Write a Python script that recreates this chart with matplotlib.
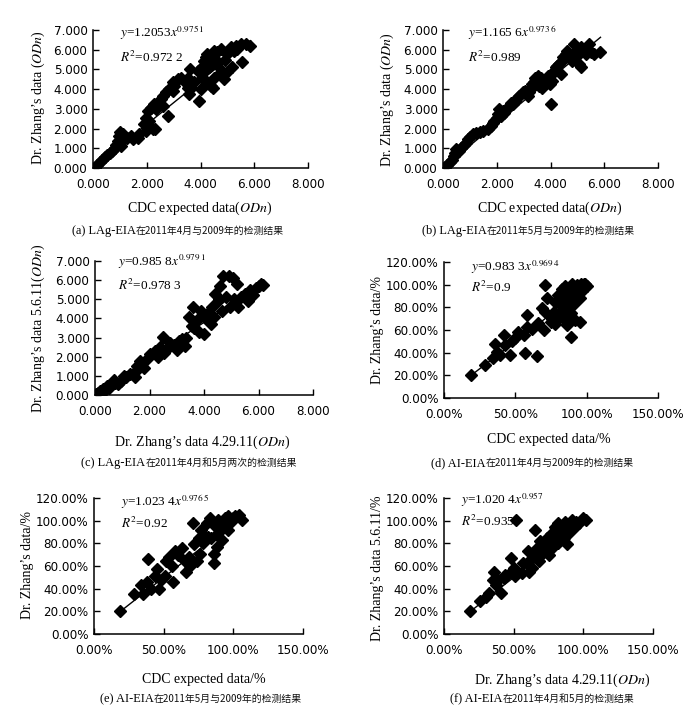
import matplotlib
matplotlib.use('Agg')
import matplotlib.pyplot as plt
from matplotlib.ticker import FuncFormatter
from matplotlib.offsetbox import TextArea, HPacker, AnnotationBbox

plt.rcParams['mathtext.fontset'] = 'stix'

# ---------------- data ----------------
a_x = [0.06,0.16,0.25,0.33,0.43,0.53,0.62,0.70,0.80,0.86,0.93,0.95,1.02,1.11,1.05,1.17,1.27,1.42,1.48,1.67,1.73,
       1.89,1.98,2.04,1.98,2.22,2.16,2.28,2.41,2.53,2.60,2.78,2.72,2.84,2.96,3.02,3.15,3.27,3.40,3.52,3.58,3.64,
       3.77,3.95,4.01,4.07,4.07,4.14,4.20,4.26,4.38,4.51,4.63,4.75,4.32,4.26,4.38,4.51,4.69,4.81,4.88,5.00,5.19,
       5.00,5.12,5.31,5.49,5.56,5.68,5.86,5.25,5.37,4.57,3.89,3.52,2.96,2.60,2.35,3.60,4.45,4.20,4.55,4.90,2.10,2.30]
a_y = [0.00,0.17,0.31,0.43,0.54,0.68,0.77,0.88,0.99,1.19,1.39,1.62,1.84,1.70,1.11,1.45,1.53,1.62,1.45,1.53,1.70,
       2.21,2.55,2.89,1.87,1.96,3.06,3.23,3.32,3.49,3.66,2.64,3.83,4.00,3.91,4.17,4.51,4.59,4.42,4.59,3.74,4.08,
       4.34,3.40,4.00,4.59,5.10,5.44,5.61,5.78,5.70,5.95,5.87,6.04,5.10,4.34,4.17,4.59,4.76,4.93,4.51,4.85,5.10,
       5.78,6.12,6.21,6.29,5.36,6.29,6.21,5.95,6.04,5.27,4.93,4.08,4.34,3.15,3.00,5.00,4.05,5.00,5.55,5.50,2.40,2.00]

b_x = [0.06,0.16,0.25,0.33,0.41,0.46,0.49,0.58,0.68,0.78,0.86,0.93,1.02,1.11,1.23,1.36,1.48,1.67,1.79,1.85,1.91,
       2.01,2.06,2.10,2.16,2.22,2.28,2.41,2.47,2.53,2.59,2.68,2.75,2.84,2.96,3.05,3.15,3.21,3.27,3.33,3.40,3.42,
       3.49,3.52,3.58,3.64,3.70,3.83,3.89,4.01,3.99,4.04,4.07,4.14,4.20,4.26,4.32,4.38,4.41,4.48,4.57,4.63,4.69,
       4.75,4.81,4.88,4.90,4.98,5.06,5.12,5.15,5.25,5.31,5.37,5.43,5.49,5.62,5.86]
b_y = [0.03,0.17,0.31,0.43,0.60,0.77,0.94,0.85,1.02,1.16,1.28,1.45,1.56,1.70,1.79,1.84,1.87,1.96,2.13,2.30,2.38,
       2.55,2.72,2.98,2.64,2.89,2.81,3.06,3.15,3.32,3.23,3.40,3.54,3.66,3.83,3.91,3.66,3.83,4.08,4.25,4.34,4.59,
       4.42,4.68,4.17,4.59,4.08,4.51,4.68,3.23,4.25,4.42,4.76,4.93,5.10,5.19,5.27,4.76,5.44,5.61,5.78,5.95,5.70,
       5.53,5.44,6.29,5.87,5.70,5.27,5.10,6.12,6.04,5.78,5.95,6.29,5.87,5.78,5.87]

c_x = [0.05,0.12,0.20,0.25,0.30,0.38,0.45,0.50,0.60,0.70,0.75,0.85,0.95,1.05,1.15,1.30,1.45,1.50,1.55,1.65,1.70,
       1.80,1.90,2.00,2.20,2.30,2.40,2.50,2.55,2.65,2.75,2.90,3.00,3.10,3.20,3.30,3.35,3.45,3.60,3.65,3.75,3.80,
       3.90,4.00,4.05,4.15,4.25,4.30,4.40,4.50,4.60,4.65,4.70,4.80,4.90,4.95,5.05,5.10,5.20,5.25,5.35,5.50,5.60,
       5.70,5.80,5.90,6.00,6.10,6.15,4.55,4.35,3.55]
c_y = [0.05,0.10,0.20,0.10,0.30,0.25,0.45,0.35,0.60,0.80,0.65,0.55,0.75,1.00,0.95,1.10,0.95,1.25,1.50,1.75,1.55,
       1.40,1.90,2.15,2.30,2.00,2.50,3.05,2.20,2.40,2.70,2.60,2.35,2.80,2.90,2.55,3.00,4.10,4.60,3.50,3.90,3.30,
       4.40,3.20,4.00,4.30,3.70,4.60,5.30,4.90,5.70,4.40,6.20,5.10,6.20,4.60,6.10,5.00,5.80,4.60,5.10,5.30,4.90,
       5.50,5.20,5.60,5.70,5.80,5.75,5.00,4.10,3.60]

d_x = [19,29,34,37,36,39,43,42,46,48,50,52,56,58,58,57,65,62,66,70,71,71,72,75,77,78,80,82,83,84,85,86,88,89,89,
       90,91,92,93,95,95,96,97,99,100,79,76,69,82,85,87,89,90,92,88,86,84,91,93,96,98,83,89,80,78,74]
d_y = [20,29,35,41,48,38,47,56,38,50,53,58,56,63,73,40,37,61,66,60,76,100,88,67,76,85,91,82,96,70,99,64,88,54,94,
       101,83,69,96,67,88,101,94,101,99,73,70,79,88,92,95,97,90,92,85,80,83,98,100,99,101,78,75,70,65,72]

e_x = [19,29,35,34,38,39,41,44,45,47,48,51,52,54,56,57,58,60,63,65,66,68,69,71,72,74,75,76,77,78,81,82,83,86,86,
       87,89,90,92,93,94,96,98,100,104,106,88,84,80,89,96,101]
e_y = [20,35,35,43,46,66,40,51,57,40,48,51,64,68,60,46,73,70,76,64,55,68,60,98,79,64,85,71,92,80,98,86,102,71,63,
       95,89,99,83,94,102,92,99,102,105,101,77,85,86,101,104,104]

f_x = [19,26,30,32,36,37,35,41,39,43,48,48,50,51,52,56,57,60,61,63,64,65,67,68,69,70,73,74,75,77,78,80,81,82,84,
       86,87,89,90,92,94,95,97,100,102,88,82,77,61,44]
f_y = [20,29,33,36,55,43,48,36,48,49,55,67,58,51,101,54,63,73,64,58,68,92,76,64,82,71,76,85,70,88,79,94,86,98,92,
       85,99,95,89,101,94,99,98,102,101,79,80,75,55,52]

trend_x = {'a': [0.10, 5.86], 'b': [0.10, 5.86], 'c': [0.10, 6.15], 'd': [19, 100], 'e': [19, 106], 'f': [19, 102]}
trend_y = {'a': [0.12, 6.46], 'b': [0.12, 6.63], 'c': [0.10, 5.83], 'd': [20, 98], 'e': [20, 104], 'f': [20, 100]}

eq_text = {
    'a': (r'$y$=1.2053$x^{0.975\,1}$', r'$R^2$=0.972 2'),
    'b': (r'$y$=1.165 6$x^{0.973\,6}$', r'$R^2$=0.989'),
    'c': (r'$y$=0.985 8$x^{0.979\,1}$', r'$R^2$=0.978 3'),
    'd': (r'$y$=0.983 3$x^{0.969\,4}$', r'$R^2$=0.9'),
    'e': (r'$y$=1.023 4$x^{0.976\,5}$', r'$R^2$=0.92'),
    'f': (r'$y$=1.020 4$x^{0.957}$', r'$R^2$=0.935'),
}
x_labels = {
    'a': 'CDC expected data($ODn$)', 'b': 'CDC expected data($ODn$)',
    'c': 'Dr. Zhang\u2019s data 4.29.11($ODn$)', 'd': 'CDC expected data/%',
    'e': 'CDC expected data/%', 'f': 'Dr. Zhang\u2019s data 4.29.11($ODn$)',
}
y_labels = {
    'a': 'Dr. Zhang\u2019s data ($ODn$)', 'b': 'Dr. Zhang\u2019s data ($ODn$)',
    'c': 'Dr. Zhang\u2019s data 5.6.11($ODn$)', 'd': 'Dr. Zhang\u2019s data/%',
    'e': 'Dr. Zhang\u2019s data/%', 'f': 'Dr. Zhang\u2019s data 5.6.11/%',
}
caption_prefix = {'a': '(a) LAg-EIA', 'b': '(b) LAg-EIA', 'c': '(c) LAg-EIA',
                  'd': '(d) AI-EIA', 'e': '(e) AI-EIA', 'f': '(f) AI-EIA'}
caption_rest = {
    'a': '在2011年4月与2009年的检测结果',
    'b': '在2011年5月与2009年的检测结果',
    'c': '在2011年4月和5月两次的检测结果',
    'd': '在2011年4月与2009年的检测结果',
    'e': '在2011年5月与2009年的检测结果',
    'f': '在2011年4月和5月的检测结果',
}
od_ticks = [0, 2, 4, 6, 8]
od_yticks = [0, 1, 2, 3, 4, 5, 6, 7]
pct_ticks = [0, 50, 100, 150]
pct_yticks = [0, 20, 40, 60, 80, 100, 120]

# ---------------- layout (pixels) ----------------
W, H = 700, 723
fig = plt.figure(figsize=(W / 100, H / 100), dpi=100)
fig.patch.set_facecolor('white')

serif = ['Liberation Serif', 'Noto Sans CJK SC']
cjk = ['Noto Sans CJK SC', 'DejaVu Sans']

panels = {
    # key: (x0, x1, ytop, ybottom, eq pos (fx, fy1, fy2), xlabel pos, ylabel pos, caption pos)
    'a': (93, 308, 30, 168, (0.126, 0.978, 0.80), (200, 208), (38, 98), (178, 231)),
    'b': (443, 658, 30, 168, (0.116, 0.978, 0.80), (550, 208), (387, 100), (528, 231)),
    'c': (95, 313, 261, 395, (0.105, 0.995, 0.82), (202, 442), (38, 328), (189, 463)),
    'd': (444, 658, 262, 398, (0.126, 0.963, 0.81), (549, 440), (377, 330), (532, 463)),
    'e': (94, 303, 498, 634, (0.129, 0.97, 0.816), (204, 679), (27, 565), (201, 699)),
    'f': (444, 653, 498, 634, (0.08, 0.985, 0.83), (562, 680), (377, 568), (542, 699)),
}
data = {'a': (a_x, a_y), 'b': (b_x, b_y), 'c': (c_x, c_y),
        'd': (d_x, d_y), 'e': (e_x, e_y), 'f': (f_x, f_y)}

for key, (x0, x1, yt, yb, eqp, xlp, ylp, cp) in panels.items():
    ax = fig.add_axes([x0 / W, 1 - yb / H, (x1 - x0) / W, (yb - yt) / H])
    xs, ys = data[key]
    ax.plot(trend_x[key], trend_y[key], color='black', lw=1.0, zorder=2)
    ax.plot(xs, ys, linestyle='none', marker='D', ms=6.6, color='black', zorder=3)
    pct = key in ('d', 'e', 'f')
    if pct:
        ax.set_xlim(0, 150); ax.set_ylim(0, 120)
        ax.set_xticks(pct_ticks); ax.set_yticks(pct_yticks)
        fmt = FuncFormatter(lambda v, p: f'{v:.2f}%')
    else:
        ax.set_xlim(0, 8); ax.set_ylim(0, 7)
        ax.set_xticks(od_ticks); ax.set_yticks(od_yticks)
        fmt = FuncFormatter(lambda v, p: f'{v:.3f}')
    ax.xaxis.set_major_formatter(fmt)
    ax.yaxis.set_major_formatter(fmt)
    for s in ('top', 'right'):
        ax.spines[s].set_visible(False)
    for s in ('left', 'bottom'):
        ax.spines[s].set_linewidth(1.1)
    ax.tick_params(direction='in', length=4, width=1.0, labelsize=8.6, pad=4)
    ax.tick_params(axis='x', pad=7)
    for lab in ax.get_xticklabels() + ax.get_yticklabels():
        lab.set_family('DejaVu Sans')
    ax.patch.set_alpha(0)
    for sp in ax.spines.values():
        sp.set_clip_on(False)
    eq1, eq2 = eq_text[key]
    ax.text(eqp[0], eqp[1], eq1, transform=ax.transAxes, family=serif, fontsize=9.5,
            ha='left', va='center')
    ax.text(eqp[0], eqp[2], eq2, transform=ax.transAxes, family=serif, fontsize=9.5,
            ha='left', va='center')
    fig.text(xlp[0] / W, 1 - xlp[1] / H, x_labels[key], family=serif, fontsize=10,
             ha='center', va='center')
    fig.text(ylp[0] / W, 1 - ylp[1] / H, y_labels[key], family=serif, fontsize=10,
             ha='center', va='center', rotation=90)
    t1 = TextArea(caption_prefix[key], textprops=dict(family=serif, fontsize=8.9, color='black'))
    t2 = TextArea(caption_rest[key], textprops=dict(family=cjk, fontsize=7.1, color='#111111'))
    box = HPacker(children=[t1, t2], align='baseline', pad=0, sep=0)
    ab = AnnotationBbox(box, (cp[0] / W, 1 - cp[1] / H), xycoords='figure fraction',
                        box_alignment=(0.5, 0.5), frameon=False, pad=0)
    fig.add_artist(ab)

fig.savefig('out.png', dpi=100, facecolor='white')
